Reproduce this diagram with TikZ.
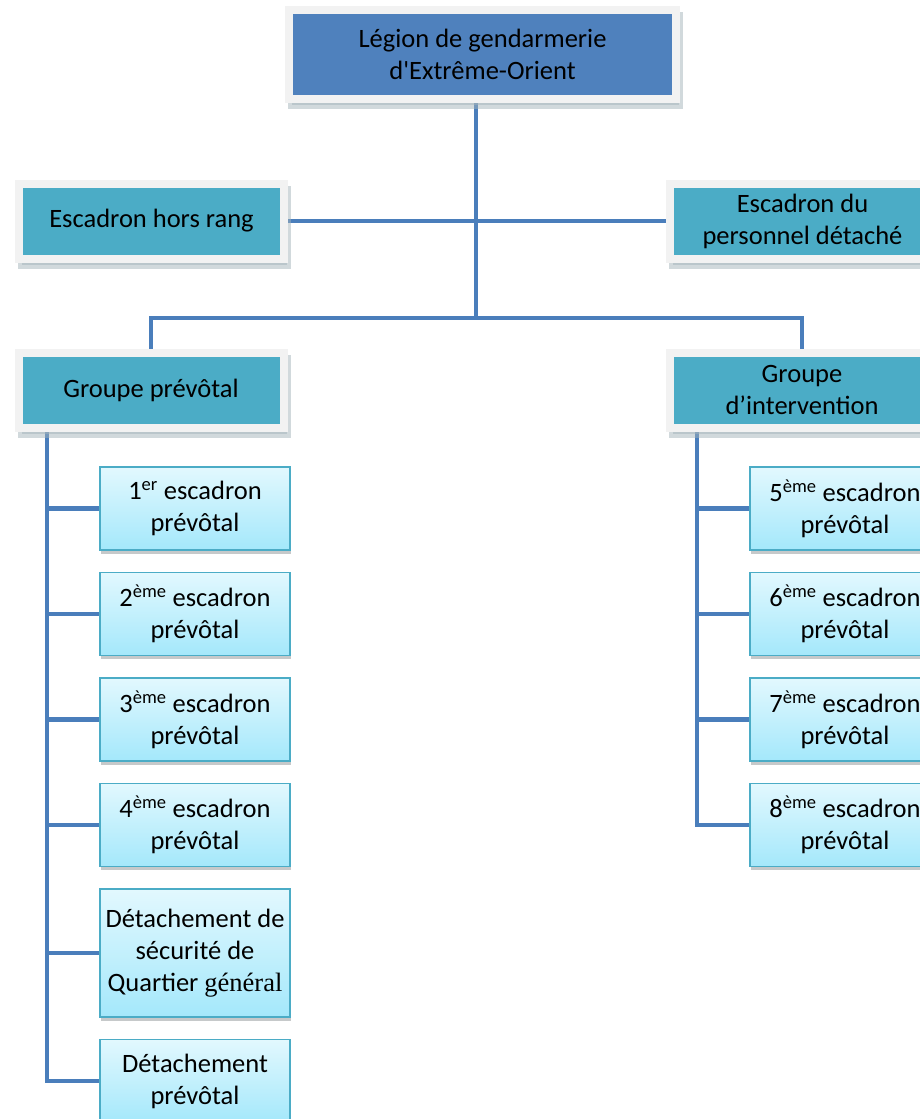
\documentclass[tikz,border=0pt]{standalone}
\usepackage{fontspec}
\setmainfont{Carlito}[Ligatures=TeXOff]
\newfontfamily\gensrf{Liberation Serif}
\usetikzlibrary{%
  positioning,% wg. " of "
  shadows,%
  backgrounds%
}
\definecolor{legionblue}{HTML}{4F81BD}
\definecolor{unitteal}{HTML}{4BACC6}
\definecolor{framegray}{HTML}{F2F2F2}
\definecolor{shadowgray}{HTML}{A3B3BA}
\definecolor{childtop}{HTML}{E2F8FE}
\definecolor{childbottom}{HTML}{A4E8FB}
\definecolor{childline}{HTML}{4BACC6}
\definecolor{childshadow}{HTML}{8E9396}
\definecolor{wireblue}{HTML}{4A7EBB}

\begin{document}
\begin{tikzpicture}[
    x=1pt,y=-1pt,
    line join=miter,
    every node/.style={font=\fontsize{26.5}{32}\selectfont,align=center,inner sep=0pt},
    mainbox/.style={rectangle,draw=framegray,line width=8pt,fill=#1,
        drop shadow={shadow xshift=3pt,shadow yshift=-6pt,
            fill=shadowgray,draw=shadowgray,line width=8pt}},
    unitbox/.style={mainbox=unitteal,minimum width=265pt,minimum height=75pt},
    childbox/.style={rectangle,draw=childline,line width=1.3pt,
        top color=childtop,bottom color=childbottom,
        minimum width=190pt,minimum height=83pt,outer sep=0pt,
        drop shadow={shadow xshift=1pt,shadow yshift=-3.5pt,fill=childshadow}},
    wire/.style={draw=wireblue,line width=4.5pt},
    node distance=22.5pt
  ]
    \useasboundingbox (0,0) rectangle (920,1119);

    \node[mainbox=legionblue,minimum width=387pt,minimum height=89pt]
        (legion) at (482.5,54.5) {Légion de gendarmerie\\d'Extrême-Orient};
    \node[unitbox] (horsrang) at (151.5,221) {Escadron hors rang};
    \node[unitbox] (detache)  at (802.5,221) {Escadron du\\personnel détaché};
    \node[unitbox] (prevotal) at (151,390) {Groupe prévôtal};
    \node[unitbox] (interv)   at (802,390) {Groupe\\d’intervention};

    % groupe prevotal
    \node[childbox] (ep1) at (195,508.5) {1\textsuperscript{er} escadron\\prévôtal};
    \node[childbox,below=of ep1] (ep2) {2\textsuperscript{ème} escadron\\prévôtal};
    \node[childbox,below=of ep2] (ep3) {3\textsuperscript{ème} escadron\\prévôtal};
    \node[childbox,below=of ep3] (ep4) {4\textsuperscript{ème} escadron\\prévôtal};
    \node[childbox,below=of ep4,minimum height=128pt] (dsqg)
        {Détachement de\\sécurité de\\Quartier {\gensrf général}};
    \node[childbox,below=of dsqg] (dprev) {Détachement\\prévôtal};

    % groupe d'intervention
    \node[childbox] (ep5) at (845,508.5) {5\textsuperscript{ème} escadron\\prévôtal};
    \node[childbox,below=of ep5] (ep6) {6\textsuperscript{ème} escadron\\prévôtal};
    \node[childbox,below=of ep6] (ep7) {7\textsuperscript{ème} escadron\\prévôtal};
    \node[childbox,below=of ep7] (ep8) {8\textsuperscript{ème} escadron\\prévôtal};

    \coordinate (trunk)  at (476,318);
    \coordinate (lspine) at (47,0);
    \coordinate (rspine) at (697,0);

    \begin{scope}[on background layer,every path/.style=wire]
     \draw (trunk |- legion.south) -- (trunk);
     \draw (horsrang.east) -- (detache.west);
     \draw (prevotal.north) |- (trunk) -| (interv.north);
     \draw (lspine |- prevotal.south) |- (dprev.west);
     \foreach \n in {ep1,ep2,ep3,ep4,dsqg}
        \draw (lspine |- \n.west) -- (\n.west);
     \draw (rspine |- interv.south) |- (ep8.west);
     \foreach \n in {ep5,ep6,ep7}
        \draw (rspine |- \n.west) -- (\n.west);
    \end{scope}
\end{tikzpicture}
\end{document}
